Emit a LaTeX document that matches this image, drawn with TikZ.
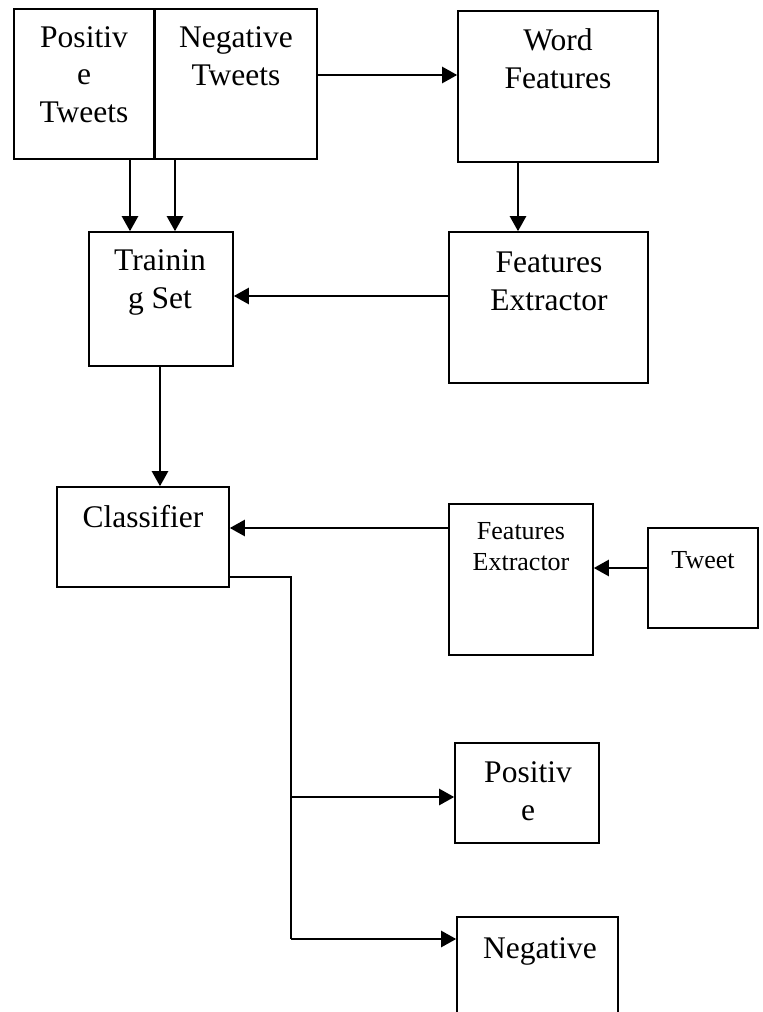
\documentclass[tikz,border=0pt]{standalone}
\usepackage{fontspec}
\setmainfont{Liberation Serif}
\usetikzlibrary{arrows.meta,fit}
\begin{document}
\begin{tikzpicture}[x=1pt,y=-1pt,
 box/.style={draw,line width=1.6pt,inner sep=0pt},
 lbl/.style={anchor=base,align=center,inner sep=0pt,font=\fontsize{31.5}{37.5}\selectfont},
 slbl/.style={anchor=base,align=center,inner sep=0pt,font=\fontsize{26}{31}\selectfont},
 arr/.style={line width=2.4pt,-{Triangle[length=15pt,width=16pt]}},
 ln/.style={line width=2.4pt}]
\clip (0,0) rectangle (763,1012);
\fill[white] (0,0) rectangle (763,1012);
% boxes
\node[box,fit={(14,9) (154,159)}] (pt) {};
\node[box,fit={(154,9) (317,159)}] (nt) {};
\draw[line width=3pt] (pt.north east) -- (pt.south east);
\node[box,fit={(458,11) (658,162)}] (wf) {};
\node[box,fit={(89,232) (233,366)}] (ts) {};
\node[box,fit={(449,232) (648,383)}] (fe) {};
\node[box,fit={(57,487) (229,587)}] (cl) {};
\node[box,fit={(449,504) (593,655)}] (fe2) {};
\node[box,fit={(648,528) (758,628)}] (tw) {};
\node[box,fit={(455,743) (599,843)}] (pos) {};
\node[box,fit={(457,917) (618,1030)}] (neg) {};
% texts (anchor = baseline of the last line)
\node[lbl] (pt-t) at (84,122) {Positiv\\e\\Tweets};
\node[lbl] (nt-t) at (236,85) {Negative\\Tweets};
\node[lbl] (wf-t) at (558,88) {Word\\Features};
\node[lbl] (ts-t) at (160,308) {Trainin\\g Set};
\node[lbl] (fe-t) at (549,310) {Features\\Extractor};
\node[lbl] (cl-t) at (143,527) {Classifier};
\node[slbl] (fe2-t) at (521,570) {Features\\Extractor};
\node[slbl] (tw-t) at (703,568) {Tweet};
\node[lbl] (pos-t) at (528,820) {Positiv\\e};
\node[lbl] (neg-t) at (540,958) {Negative};
% connectors
\draw[arr] ([xshift=46pt]pt.south) -- ([xshift=-31pt]ts.north);
\draw[arr] ([xshift=-60.5pt]nt.south) -- ([xshift=14pt]ts.north);
\draw[arr] ([yshift=9pt]nt.east) -- ([yshift=11.5pt]wf.west);
\draw[arr] ([xshift=-40pt]wf.south) -- ([xshift=-30.5pt]fe.north);
\draw[arr] ([yshift=11.5pt]fe.west) -- ([yshift=3pt]ts.east);
\draw[arr] ([xshift=-1pt]ts.south) -- ([xshift=17pt]cl.north);
\draw[arr] ([yshift=51.5pt]fe2.west) -- ([yshift=9pt]cl.east);
\draw[arr] ([yshift=10pt]tw.west) -- ([yshift=11.5pt]fe2.east);
\coordinate (j1) at (291,797);
\coordinate (j2) at (291,939);
\draw[ln] ([yshift=-40pt]cl.east) -| (j2);
\draw[arr] (j1) -- (j1 -| pos.west);
\draw[arr] (j2) -- (j2 -| neg.west);
\end{tikzpicture}
\end{document}
